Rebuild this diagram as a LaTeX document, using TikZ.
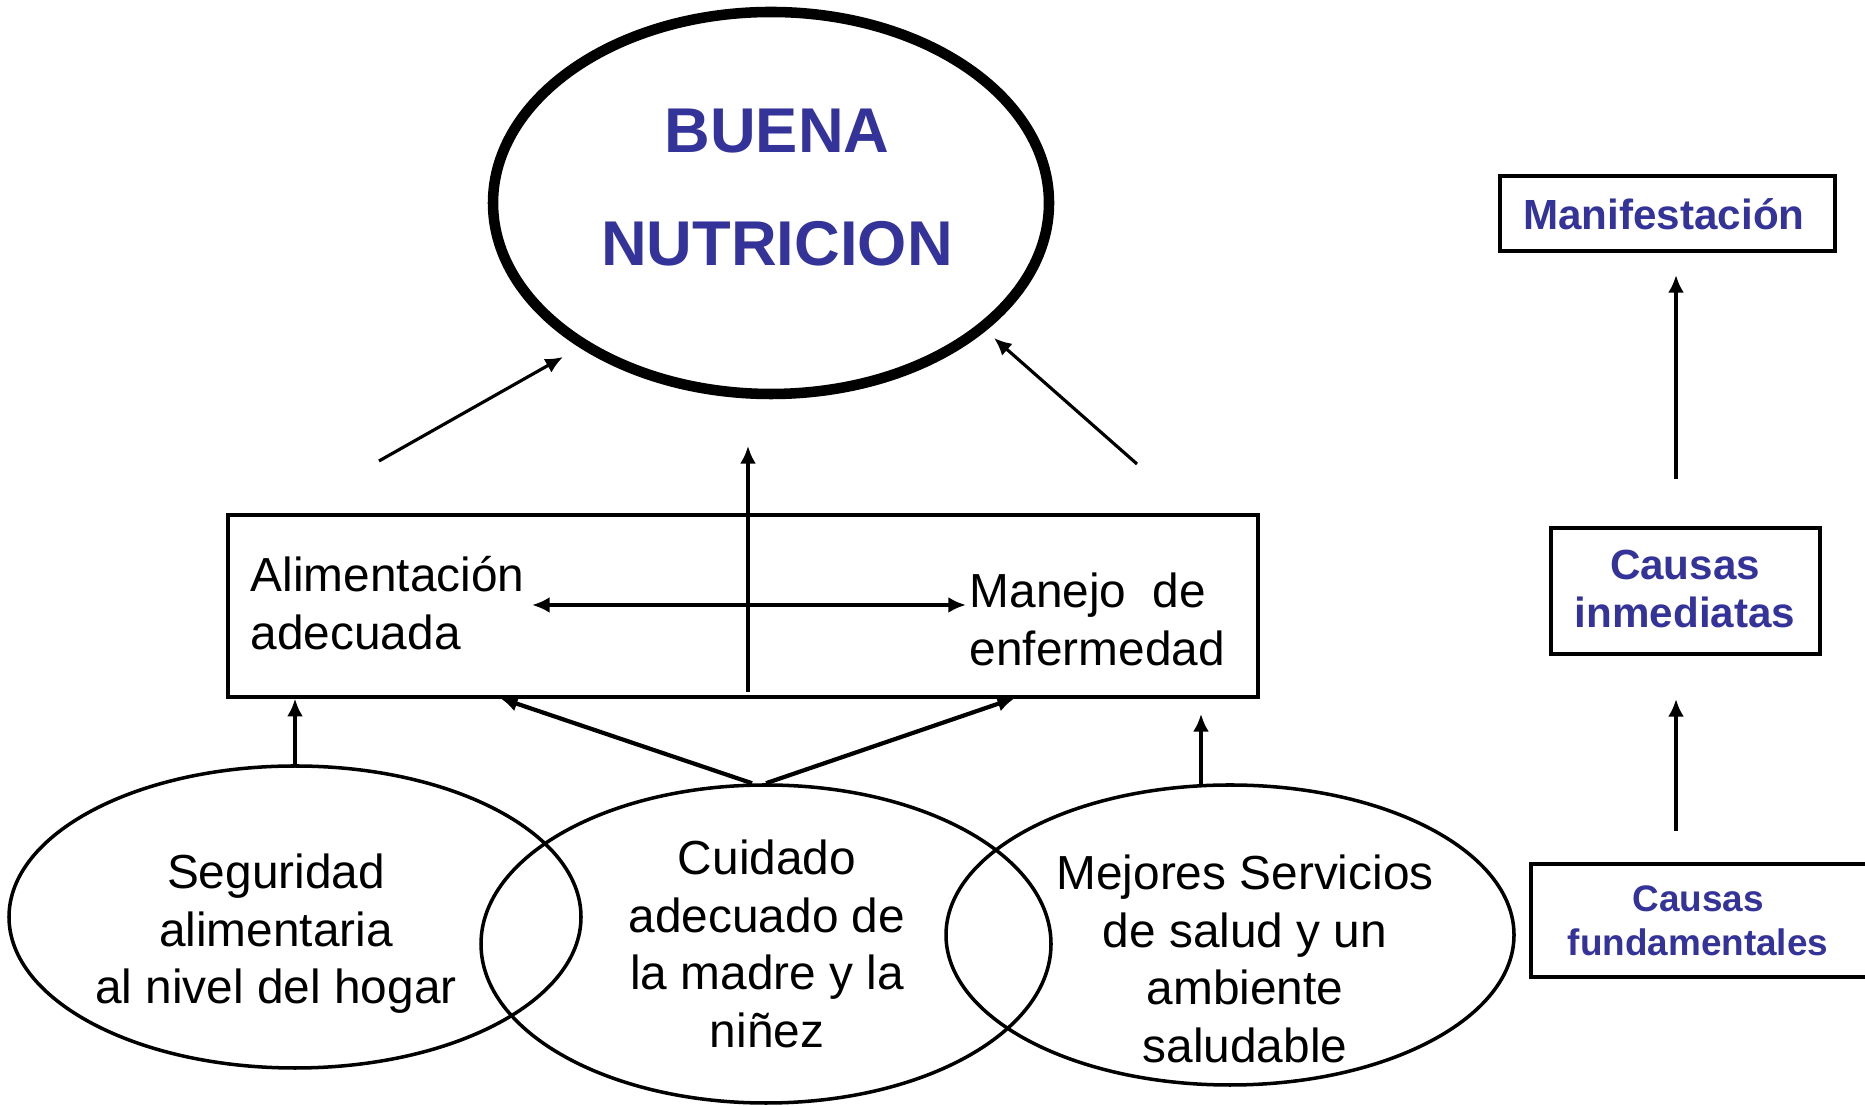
\documentclass[tikz,border=0pt]{standalone}
\usepackage{fontspec}
\setmainfont{Liberation Sans}
\usetikzlibrary{shapes.geometric,arrows.meta}
\definecolor{azul}{RGB}{51,51,153}
\begin{document}
\begin{tikzpicture}[
		flecha/.style={line width=0.9pt, -{Latex[length=5pt,width=4.5pt]}},
		elipse/.style={draw, ellipse, line width=1pt, inner sep=0pt},
		caja/.style={draw, rectangle, line width=1pt, inner sep=0pt},
		texto/.style={font=\fontsize{13.6}{16.4}\selectfont, align=center, inner sep=0pt},
		titulo/.style={font=\fontsize{18}{21}\selectfont\bfseries, text=azul, inner sep=0pt},
		rotulo/.style={font=\fontsize{12}{13.8}\selectfont\bfseries, text=azul, align=center, inner sep=0pt}]
		\useasboundingbox (0,0) rectangle (18.65,11.06);
		%buena nutricion
		\node[elipse, line width=3pt, minimum width=5.56cm, minimum height=3.82cm] (nutricion) at (7.71,9.03) {};
		\node[titulo] (buena) at (7.77,9.75) {BUENA};
		\node[titulo] (nutri) at (7.77,8.62) {NUTRICION};
		%causas inmediatas
		\node[caja, minimum width=10.30cm, minimum height=1.82cm] (inmed) at (7.43,5.00) {};
		\node[texto, align=left, anchor=west] (alim) at (2.50,5.03) {Alimentación\\adecuada};
		\node[texto, align=left, anchor=west] (manejo) at (9.69,4.865) {Manejo\ \ de\\enfermedad};
		\coordinate (izq) at (5.32,5.01);
		\coordinate (der) at (9.66,5.01);
		\draw[flecha, line width=1.2pt, {Latex[length=5pt,width=4.5pt]}-{Latex[length=5pt,width=4.5pt]}] (izq) -- (der);
		\coordinate (c0) at (7.48,4.14);
		\coordinate (c1) at (7.48,6.60);
		\draw[flecha] (c0) -- (c1);
		\coordinate (a0) at (3.79,6.45);
		\coordinate (a1) at (5.63,7.49);
		\draw[flecha] (a0) -- (a1);
		\coordinate (b0) at (11.37,6.42);
		\coordinate (b1) at (9.94,7.68);
		\draw[flecha] (b0) -- (b1);
		%causas fundamentales
		\node[elipse, minimum width=5.72cm, minimum height=3.02cm] (seguridad) at (2.95,1.89) {};
		\node[elipse, minimum width=5.70cm, minimum height=3.18cm] (cuidado) at (7.66,1.62) {};
		\node[elipse, minimum width=5.68cm, minimum height=3.00cm] (servicios) at (12.30,1.71) {};
		\node[texto] (tseg) at (2.76,1.72) {Seguridad\\alimentaria\\al nivel del hogar};
		\node[texto] (tcui) at (7.67,1.62) {Cuidado\\adecuado de\\la madre y la\\niñez};
		\node[texto] (tser) at (12.45,1.47) {Mejores Servicios\\de salud y un\\ambiente\\saludable};
		%
		\draw[flecha] (seguridad.north) -- (seguridad.north |- inmed.south);
		\coordinate (m1) at (5.00,4.08);
		\coordinate (m2) at (10.15,4.08);
		\draw[flecha, line width=1.2pt] ([xshift=-0.14cm]cuidado.north) -- (m1);
		\draw[flecha, line width=1.2pt] (cuidado.north) -- (m2);
		\coordinate (s0) at (12.01,3.22);
		\coordinate (s1) at (12.01,3.92);
		\draw[flecha] (s0) -- (s1);
		%leyenda
		\node[caja, minimum width=3.35cm, minimum height=0.75cm] (manif) at (16.675,8.925) {};
		\node[rotulo] (tmanif) at (16.64,8.92) {Manifestación};
		\node[caja, minimum width=2.69cm, minimum height=1.26cm] (inm) at (16.855,5.15) {};
		\node[rotulo, font=\fontsize{12}{13.7}\selectfont\bfseries] (tinm) at (16.85,5.17) {Causas\\inmediatas};
		\node[caja, minimum width=3.50cm, minimum height=1.13cm] (fund) at (17.06,1.855) {};
		\node[rotulo, font=\fontsize{10.5}{12.6}\selectfont\bfseries] (tfund) at (16.98,1.85) {Causas\\fundamentales};
		\draw[flecha, line width=1.2pt] (16.76,6.27) -- (16.76,8.31);
		\draw[flecha, line width=1.2pt] (16.76,2.75) -- (16.76,4.07);
	\end{tikzpicture}
\end{document}
